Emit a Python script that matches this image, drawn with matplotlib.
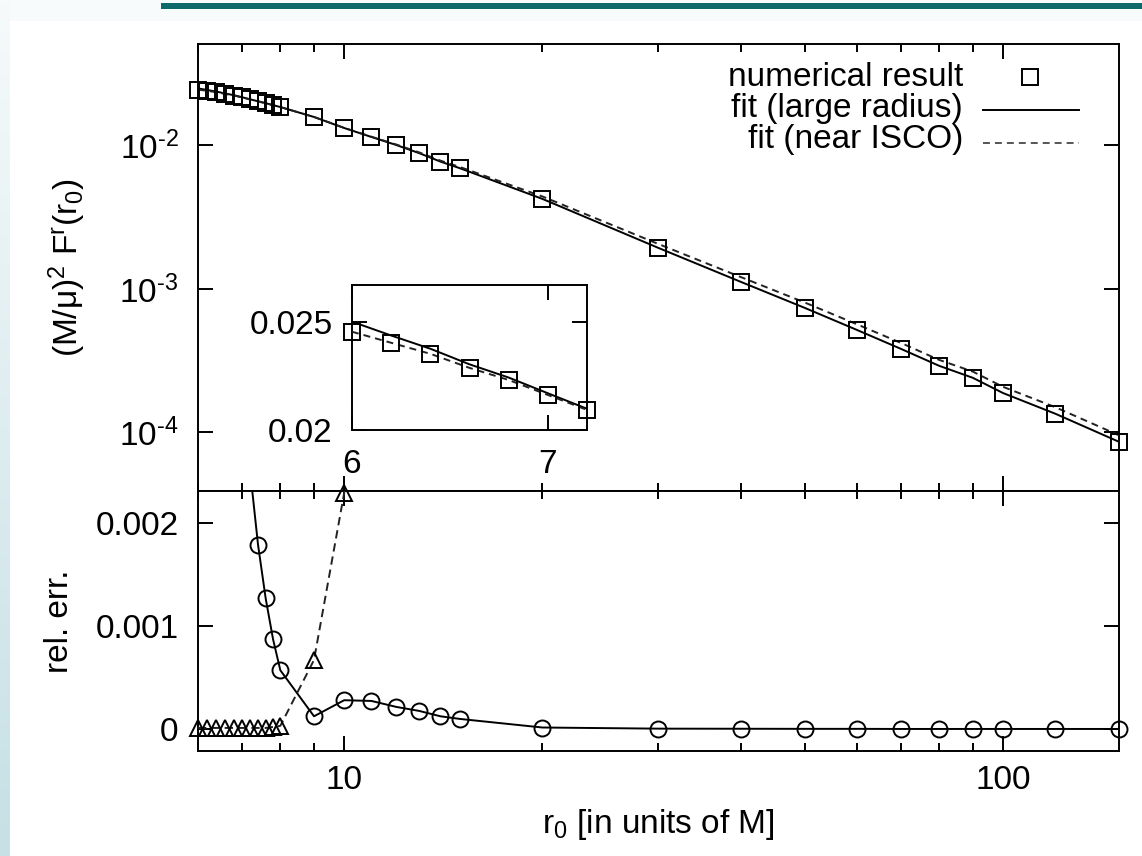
import numpy as np
import matplotlib
matplotlib.use('Agg')
import matplotlib.pyplot as plt
from matplotlib.patches import Rectangle
from matplotlib.lines import Line2D
from matplotlib.ticker import NullLocator, NullFormatter

plt.rcParams['font.family'] = ['Liberation Sans', 'DejaVu Sans']
plt.rcParams['mathtext.fontset'] = 'custom'
plt.rcParams['mathtext.rm'] = 'Liberation Sans'
plt.rcParams['mathtext.it'] = 'Liberation Sans:italic'
plt.rcParams['mathtext.default'] = 'regular'
plt.rcParams['lines.scale_dashes'] = False

# ---------------- data ----------------
r0 = [6.0, 6.2, 6.4, 6.6, 6.8, 7.0, 7.2, 7.4, 7.6, 7.8, 8.0,
      9, 10, 11, 12, 13, 14, 15, 20, 30, 40, 50, 60, 70, 80, 90, 100, 120, 150]
force = [0.02454, 0.02403, 0.02352, 0.02287, 0.02231, 0.02162, 0.02093,
         0.0203, 0.0197, 0.0191, 0.01853,
         0.0158, 0.01324, 0.01146, 0.01007, 0.00884, 0.00772, 0.00693,
         0.00424, 0.00193, 0.00112, 7.38e-4, 5.18e-4, 3.82e-4, 2.91e-4,
         2.40e-4, 1.88e-4, 1.35e-4, 8.59e-5]
# relative error of the large-radius fit (circles)
err_large = [0.019, 0.014, 0.010, 0.0072, 0.0051, 0.0036, 0.0025,
             0.00179, 0.00127, 0.00087, 0.00057,
             0.000123, 0.000279, 0.000272, 0.000214, 0.000175, 0.000123, 0.000097,
             0.000014, 0.000003, 0.000002, 0.000001, 0.000001, 0.0, 0.0,
             0.0, 0.0, 0.0, 0.0]
# relative error of the near-ISCO fit (triangles)
err_isco = [0.00001, 0.00001, 0.00001, 0.00001, 0.00001, 0.00001, 0.00001,
            0.00001, 0.00001, 0.00002, 0.00003,
            0.00067, 0.00229, 0.0048, 0.008, 0.012, 0.016, 0.02,
            0.04, 0.065, 0.08, 0.09, 0.095, 0.1, 0.1,
            0.105, 0.105, 0.11, 0.11]
upper_yticks = [1e-4, 1e-3, 1e-2]
upper_yticklabels = ['10$^{\u2010 4}$', '10$^{\u2010 3}$', '10$^{\u2010 2}$']

r = np.array(r0)
F = np.array(force)
eL = np.array(err_large)
eI = np.array(err_isco)
fit_large = F * (1 + eL)
fit_isco = F * (1 + eI)

W, H = 1142, 856
fig = plt.figure(figsize=(W / 100, H / 100), dpi=100)
fig.patch.set_facecolor('#f8fbfb')

# ---------------- slide background ----------------
bg = fig.add_axes([0, 0, 1, 1], zorder=-10)
bg.set_xlim(0, W)
bg.set_ylim(H, 0)
bg.axis('off')
grad = np.linspace(0, 1, 256)[:, None]
cmap = matplotlib.colors.LinearSegmentedColormap.from_list('g', ['#f6fafb', '#c6e0e5'])
bg.imshow(grad, extent=[0, 10, H, 0], aspect='auto', cmap=cmap, zorder=0)
bg.add_patch(Rectangle((10, 21), W - 10, H - 21, facecolor='white', edgecolor='none', zorder=1))
bg.add_patch(Rectangle((161, 3), W - 161, 6, facecolor='#0e6a6a', edgecolor='none', zorder=1))

def px_rect(x0, y0, x1, y1):
    return [x0 / W, 1 - y1 / H, (x1 - x0) / W, (y1 - y0) / H]

LW = 1.4
FS = 24

def style(ax):
    for s in ax.spines.values():
        s.set_linewidth(LW)
    ax.tick_params(which='both', direction='in', top=True, right=True,
                   width=LW, labelsize=FS, colors='black')
    ax.tick_params(which='major', length=10.8)
    ax.tick_params(which='minor', length=5.8)

# ---------------- upper panel ----------------
ax1 = fig.add_axes(px_rect(198, 44, 1119, 491))
ax1.set_xscale('log')
ax1.set_yscale('log')
ax1.set_xlim(6, 150)
ax1.set_ylim(3.9e-5, 0.051)
ax1.plot(r, fit_large, '-', color='black', lw=LW, zorder=3)
ax1.plot(r, fit_isco, color='#222222', lw=LW, dashes=(5, 3.6), zorder=3)
ax1.plot(r, F, 's', ms=11.5, mfc='none', mec='black', mew=LW, clip_on=False, zorder=4)
ax1.set_yticks(upper_yticks)
ax1.set_yticklabels(upper_yticklabels)
ax1.yaxis.set_minor_locator(NullLocator())
style(ax1)
ax1.tick_params(axis='y', pad=14)
ax1.tick_params(labelbottom=False)

# manual legend (gnuplot style, right-aligned text)
tx = (963 - 198) / 921
def yb(py):
    return 1 - (py - 44) / 447
ax1.text(tx, yb(86), 'numerical result', transform=ax1.transAxes, ha='right', va='baseline', fontsize=FS)
ax1.text(tx, yb(117), 'fit (large radius)', transform=ax1.transAxes, ha='right', va='baseline', fontsize=FS)
ax1.text(tx, yb(148), 'fit (near ISCO)', transform=ax1.transAxes, ha='right', va='baseline', fontsize=FS)
lx0, lx1 = (983 - 198) / 921, (1079 - 198) / 921
ax1.add_line(Line2D([(1030 - 198) / 921], [yb(77)], transform=ax1.transAxes, marker='s', ms=11.5,
                    mfc='none', mec='black', mew=LW, ls='none', clip_on=False))
ax1.add_line(Line2D([lx0, lx1], [yb(110)] * 2, transform=ax1.transAxes, color='black', lw=LW))
ax1.add_line(Line2D([lx0, lx1], [yb(143)] * 2, transform=ax1.transAxes, color='#555555', lw=LW,
                    dashes=(5, 3.6)))

# ---------------- lower panel ----------------
ax2 = fig.add_axes(px_rect(198, 491, 1119, 751))
ax2.set_xscale('log')
ax2.set_xlim(6, 150)
ylo, yhi = -0.000214, 0.00231
ax2.set_ylim(ylo, yhi)
ax2.plot(r, eL, '-', color='black', lw=LW, zorder=3)
ax2.plot(r, eI, color='#222222', lw=LW, dashes=(6, 3.6), zorder=3)
mL = (eL <= yhi)
mI = (eI <= yhi)
ax2.plot(r[mL], eL[mL], 'o', ms=11.5, mfc='none', mec='black', mew=LW, clip_on=False, zorder=4)
ax2.plot(r[mI], eI[mI], '^', ms=12, mfc='none', mec='black', mew=LW, clip_on=False, zorder=4)
ax2.set_yticks([0, 0.001, 0.002])
ax2.set_yticklabels(['0', '0.001', '0.002'])
ax2.yaxis.set_minor_locator(NullLocator())
ax2.set_xticks([10, 100])
ax2.set_xticklabels(['10', '100'])
ax2.xaxis.set_minor_formatter(NullFormatter())
style(ax2)
ax2.tick_params(axis='y', pad=14)
ax2.tick_params(axis='x', pad=10)

# ---------------- inset ----------------
axi = fig.add_axes(px_rect(352, 285, 587, 430), zorder=5)
axi.set_facecolor('white')
axi.set_xlim(6, 7.2)
axi.set_ylim(0.02, 0.0267)
axi.plot(r, fit_large, '-', color='black', lw=LW, zorder=3)
axi.plot(r, fit_isco, color='#222222', lw=LW, dashes=(5, 3.6), zorder=3)
mi = r <= 7.2 + 1e-9
axi.plot(r[mi], F[mi], 's', ms=11.5, mfc='none', mec='black', mew=LW, clip_on=False, zorder=4)
axi.set_xticks([6, 7])
axi.set_xticklabels(['6', '7'])
axi.set_yticks([0.02, 0.025])
axi.set_yticklabels(['0.02', '0.025'])
style(axi)
axi.tick_params(axis='y', pad=14)
axi.tick_params(axis='x', pad=14)

# ---------------- axis labels ----------------
fig.text(67 / W, 1 - 268 / H, '(M/μ)$^2$ F$^r$(r$_0$)', rotation=90, ha='center', va='center', fontsize=FS)
fig.text(60 / W, 1 - 621 / H, 'rel. err.', rotation=90, ha='center', va='center', fontsize=FS)
fig.text(658 / W, 1 - 825 / H, 'r$_0$ [in units of M]', ha='center', va='center', fontsize=FS)

fig.savefig('out.png', dpi=100, facecolor=fig.get_facecolor())
